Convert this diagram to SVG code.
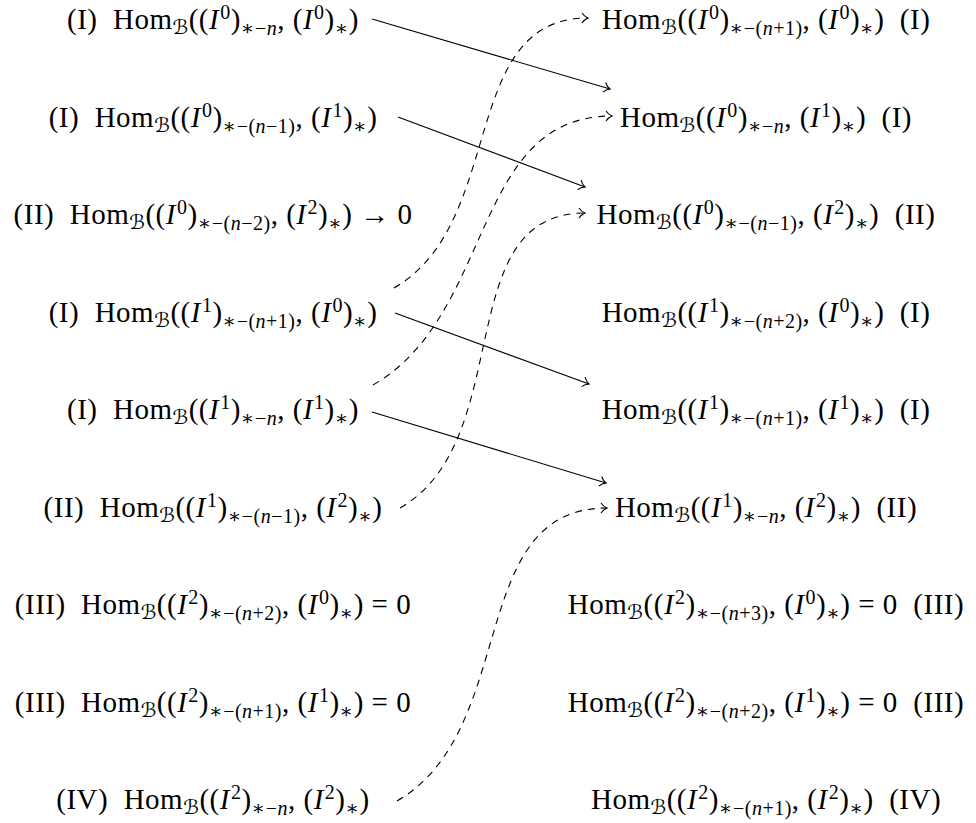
<svg xmlns="http://www.w3.org/2000/svg" width="976" height="823" viewBox="0 0 976 823">
<style>
.t{font-family:"Liberation Serif","Times New Roman",serif;font-size:29px;fill:#000;letter-spacing:0.5px;text-anchor:middle}
.i{font-style:italic}
.s{font-size:20px}
.c{font-family:"DejaVu Serif","DejaVu Sans",serif}
.ln{fill:none;stroke:#000;stroke-width:1.1;marker-end:url(#ah)}
.dsh{stroke-dasharray:7 6}
</style>
<defs>
<marker id="ah" markerUnits="userSpaceOnUse" markerWidth="14" markerHeight="14" viewBox="-8 -7 10 14" refX="0" refY="0" orient="auto" overflow="visible">
<path d="M-6,-5 C-4,-2 -1.5,-0.6 0,0 C-1.5,0.6 -4,2 -6,5" fill="none" stroke="#000" stroke-width="1.1"/>
</marker>
</defs>
<rect width="976" height="823" fill="#fff"/>
<g id="L1"><text class="t" x="213" y="29">(I)&#160;&#160;Hom<tspan class="s c" dy="5">ℬ</tspan><tspan dy="-5">((</tspan><tspan class="i">I</tspan><tspan class="s" dx="1" dy="-10">0</tspan><tspan dy="10">)</tspan><tspan class="s" dy="6"><tspan class="c">∗</tspan>−<tspan class="i">n</tspan></tspan><tspan dy="-6">, (</tspan><tspan class="i">I</tspan><tspan class="s" dx="1" dy="-10">0</tspan><tspan dy="10">)</tspan><tspan class="s c" dy="6">∗</tspan><tspan dy="-6">)</tspan></text></g>
<g id="L2"><text class="t" x="213" y="126.5">(I)&#160;&#160;Hom<tspan class="s c" dy="5">ℬ</tspan><tspan dy="-5">((</tspan><tspan class="i">I</tspan><tspan class="s" dx="1" dy="-10">0</tspan><tspan dy="10">)</tspan><tspan class="s" dy="6"><tspan class="c">∗</tspan>−(<tspan class="i">n</tspan>−1)</tspan><tspan dy="-6">, (</tspan><tspan class="i">I</tspan><tspan class="s" dx="1" dy="-10">1</tspan><tspan dy="10">)</tspan><tspan class="s c" dy="6">∗</tspan><tspan dy="-6">)</tspan></text></g>
<g id="L3"><text class="t" x="213" y="224">(II)&#160;&#160;Hom<tspan class="s c" dy="5">ℬ</tspan><tspan dy="-5">((</tspan><tspan class="i">I</tspan><tspan class="s" dx="1" dy="-10">0</tspan><tspan dy="10">)</tspan><tspan class="s" dy="6"><tspan class="c">∗</tspan>−(<tspan class="i">n</tspan>−2)</tspan><tspan dy="-6">, (</tspan><tspan class="i">I</tspan><tspan class="s" dx="1" dy="-10">2</tspan><tspan dy="10">)</tspan><tspan class="s c" dy="6">∗</tspan><tspan dy="-6">) → 0</tspan></text></g>
<g id="L4"><text class="t" x="213" y="321.5">(I)&#160;&#160;Hom<tspan class="s c" dy="5">ℬ</tspan><tspan dy="-5">((</tspan><tspan class="i">I</tspan><tspan class="s" dx="1" dy="-10">1</tspan><tspan dy="10">)</tspan><tspan class="s" dy="6"><tspan class="c">∗</tspan>−(<tspan class="i">n</tspan>+1)</tspan><tspan dy="-6">, (</tspan><tspan class="i">I</tspan><tspan class="s" dx="1" dy="-10">0</tspan><tspan dy="10">)</tspan><tspan class="s c" dy="6">∗</tspan><tspan dy="-6">)</tspan></text></g>
<g id="L5"><text class="t" x="213" y="419">(I)&#160;&#160;Hom<tspan class="s c" dy="5">ℬ</tspan><tspan dy="-5">((</tspan><tspan class="i">I</tspan><tspan class="s" dx="1" dy="-10">1</tspan><tspan dy="10">)</tspan><tspan class="s" dy="6"><tspan class="c">∗</tspan>−<tspan class="i">n</tspan></tspan><tspan dy="-6">, (</tspan><tspan class="i">I</tspan><tspan class="s" dx="1" dy="-10">1</tspan><tspan dy="10">)</tspan><tspan class="s c" dy="6">∗</tspan><tspan dy="-6">)</tspan></text></g>
<g id="L6"><text class="t" x="213" y="516.5">(II)&#160;&#160;Hom<tspan class="s c" dy="5">ℬ</tspan><tspan dy="-5">((</tspan><tspan class="i">I</tspan><tspan class="s" dx="1" dy="-10">1</tspan><tspan dy="10">)</tspan><tspan class="s" dy="6"><tspan class="c">∗</tspan>−(<tspan class="i">n</tspan>−1)</tspan><tspan dy="-6">, (</tspan><tspan class="i">I</tspan><tspan class="s" dx="1" dy="-10">2</tspan><tspan dy="10">)</tspan><tspan class="s c" dy="6">∗</tspan><tspan dy="-6">)</tspan></text></g>
<g id="L7"><text class="t" x="213" y="614">(III)&#160;&#160;Hom<tspan class="s c" dy="5">ℬ</tspan><tspan dy="-5">((</tspan><tspan class="i">I</tspan><tspan class="s" dx="1" dy="-10">2</tspan><tspan dy="10">)</tspan><tspan class="s" dy="6"><tspan class="c">∗</tspan>−(<tspan class="i">n</tspan>+2)</tspan><tspan dy="-6">, (</tspan><tspan class="i">I</tspan><tspan class="s" dx="1" dy="-10">0</tspan><tspan dy="10">)</tspan><tspan class="s c" dy="6">∗</tspan><tspan dy="-6">) = 0</tspan></text></g>
<g id="L8"><text class="t" x="213" y="711.5">(III)&#160;&#160;Hom<tspan class="s c" dy="5">ℬ</tspan><tspan dy="-5">((</tspan><tspan class="i">I</tspan><tspan class="s" dx="1" dy="-10">2</tspan><tspan dy="10">)</tspan><tspan class="s" dy="6"><tspan class="c">∗</tspan>−(<tspan class="i">n</tspan>+1)</tspan><tspan dy="-6">, (</tspan><tspan class="i">I</tspan><tspan class="s" dx="1" dy="-10">1</tspan><tspan dy="10">)</tspan><tspan class="s c" dy="6">∗</tspan><tspan dy="-6">) = 0</tspan></text></g>
<g id="L9"><text class="t" x="213" y="809">(IV)&#160;&#160;Hom<tspan class="s c" dy="5">ℬ</tspan><tspan dy="-5">((</tspan><tspan class="i">I</tspan><tspan class="s" dx="1" dy="-10">2</tspan><tspan dy="10">)</tspan><tspan class="s" dy="6"><tspan class="c">∗</tspan>−<tspan class="i">n</tspan></tspan><tspan dy="-6">, (</tspan><tspan class="i">I</tspan><tspan class="s" dx="1" dy="-10">2</tspan><tspan dy="10">)</tspan><tspan class="s c" dy="6">∗</tspan><tspan dy="-6">)</tspan></text></g>
<g id="R1"><text class="t" x="766" y="29">Hom<tspan class="s c" dy="5">ℬ</tspan><tspan dy="-5">((</tspan><tspan class="i">I</tspan><tspan class="s" dx="1" dy="-10">0</tspan><tspan dy="10">)</tspan><tspan class="s" dy="6"><tspan class="c">∗</tspan>−(<tspan class="i">n</tspan>+1)</tspan><tspan dy="-6">, (</tspan><tspan class="i">I</tspan><tspan class="s" dx="1" dy="-10">0</tspan><tspan dy="10">)</tspan><tspan class="s c" dy="6">∗</tspan><tspan dy="-6">)&#160;&#160;(I)</tspan></text></g>
<g id="R2"><text class="t" x="766" y="126.5">Hom<tspan class="s c" dy="5">ℬ</tspan><tspan dy="-5">((</tspan><tspan class="i">I</tspan><tspan class="s" dx="1" dy="-10">0</tspan><tspan dy="10">)</tspan><tspan class="s" dy="6"><tspan class="c">∗</tspan>−<tspan class="i">n</tspan></tspan><tspan dy="-6">, (</tspan><tspan class="i">I</tspan><tspan class="s" dx="1" dy="-10">1</tspan><tspan dy="10">)</tspan><tspan class="s c" dy="6">∗</tspan><tspan dy="-6">)&#160;&#160;(I)</tspan></text></g>
<g id="R3"><text class="t" x="766" y="224">Hom<tspan class="s c" dy="5">ℬ</tspan><tspan dy="-5">((</tspan><tspan class="i">I</tspan><tspan class="s" dx="1" dy="-10">0</tspan><tspan dy="10">)</tspan><tspan class="s" dy="6"><tspan class="c">∗</tspan>−(<tspan class="i">n</tspan>−1)</tspan><tspan dy="-6">, (</tspan><tspan class="i">I</tspan><tspan class="s" dx="1" dy="-10">2</tspan><tspan dy="10">)</tspan><tspan class="s c" dy="6">∗</tspan><tspan dy="-6">)&#160;&#160;(II)</tspan></text></g>
<g id="R4"><text class="t" x="766" y="321.5">Hom<tspan class="s c" dy="5">ℬ</tspan><tspan dy="-5">((</tspan><tspan class="i">I</tspan><tspan class="s" dx="1" dy="-10">1</tspan><tspan dy="10">)</tspan><tspan class="s" dy="6"><tspan class="c">∗</tspan>−(<tspan class="i">n</tspan>+2)</tspan><tspan dy="-6">, (</tspan><tspan class="i">I</tspan><tspan class="s" dx="1" dy="-10">0</tspan><tspan dy="10">)</tspan><tspan class="s c" dy="6">∗</tspan><tspan dy="-6">)&#160;&#160;(I)</tspan></text></g>
<g id="R5"><text class="t" x="766" y="419">Hom<tspan class="s c" dy="5">ℬ</tspan><tspan dy="-5">((</tspan><tspan class="i">I</tspan><tspan class="s" dx="1" dy="-10">1</tspan><tspan dy="10">)</tspan><tspan class="s" dy="6"><tspan class="c">∗</tspan>−(<tspan class="i">n</tspan>+1)</tspan><tspan dy="-6">, (</tspan><tspan class="i">I</tspan><tspan class="s" dx="1" dy="-10">1</tspan><tspan dy="10">)</tspan><tspan class="s c" dy="6">∗</tspan><tspan dy="-6">)&#160;&#160;(I)</tspan></text></g>
<g id="R6"><text class="t" x="766" y="516.5">Hom<tspan class="s c" dy="5">ℬ</tspan><tspan dy="-5">((</tspan><tspan class="i">I</tspan><tspan class="s" dx="1" dy="-10">1</tspan><tspan dy="10">)</tspan><tspan class="s" dy="6"><tspan class="c">∗</tspan>−<tspan class="i">n</tspan></tspan><tspan dy="-6">, (</tspan><tspan class="i">I</tspan><tspan class="s" dx="1" dy="-10">2</tspan><tspan dy="10">)</tspan><tspan class="s c" dy="6">∗</tspan><tspan dy="-6">)&#160;&#160;(II)</tspan></text></g>
<g id="R7"><text class="t" x="766" y="614">Hom<tspan class="s c" dy="5">ℬ</tspan><tspan dy="-5">((</tspan><tspan class="i">I</tspan><tspan class="s" dx="1" dy="-10">2</tspan><tspan dy="10">)</tspan><tspan class="s" dy="6"><tspan class="c">∗</tspan>−(<tspan class="i">n</tspan>+3)</tspan><tspan dy="-6">, (</tspan><tspan class="i">I</tspan><tspan class="s" dx="1" dy="-10">0</tspan><tspan dy="10">)</tspan><tspan class="s c" dy="6">∗</tspan><tspan dy="-6">) = 0&#160;&#160;(III)</tspan></text></g>
<g id="R8"><text class="t" x="766" y="711.5">Hom<tspan class="s c" dy="5">ℬ</tspan><tspan dy="-5">((</tspan><tspan class="i">I</tspan><tspan class="s" dx="1" dy="-10">2</tspan><tspan dy="10">)</tspan><tspan class="s" dy="6"><tspan class="c">∗</tspan>−(<tspan class="i">n</tspan>+2)</tspan><tspan dy="-6">, (</tspan><tspan class="i">I</tspan><tspan class="s" dx="1" dy="-10">1</tspan><tspan dy="10">)</tspan><tspan class="s c" dy="6">∗</tspan><tspan dy="-6">) = 0&#160;&#160;(III)</tspan></text></g>
<g id="R9"><text class="t" x="766" y="809">Hom<tspan class="s c" dy="5">ℬ</tspan><tspan dy="-5">((</tspan><tspan class="i">I</tspan><tspan class="s" dx="1" dy="-10">2</tspan><tspan dy="10">)</tspan><tspan class="s" dy="6"><tspan class="c">∗</tspan>−(<tspan class="i">n</tspan>+1)</tspan><tspan dy="-6">, (</tspan><tspan class="i">I</tspan><tspan class="s" dx="1" dy="-10">2</tspan><tspan dy="10">)</tspan><tspan class="s c" dy="6">∗</tspan><tspan dy="-6">)&#160;&#160;(IV)</tspan></text></g>
<g id="connectors">
<path class="ln" d="M372,19 L610,89"/>
<path class="ln" d="M398,117 L585,187"/>
<path class="ln" d="M395,313 L589,384"/>
<path class="ln" d="M372,412 L606,483"/>
<path class="ln dsh" d="M394,288 C507,223 458,18 588,18"/>
<path class="ln dsh" d="M373,385 C495,315 471,116 612,116"/>
<path class="ln dsh" d="M400,508 C518,440 449,213 585,213"/>
<path class="ln dsh" d="M397,801 C520,730 465,508 607,508"/>
</g>
</svg>
